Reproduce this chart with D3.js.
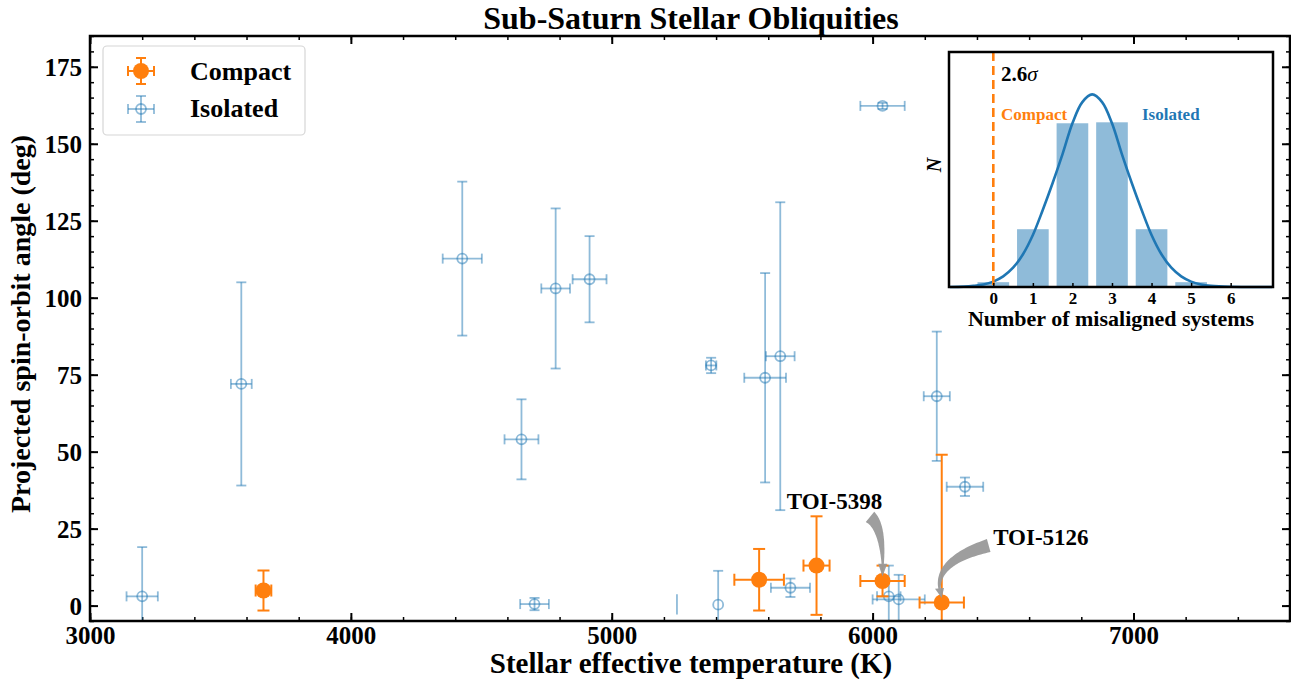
<!DOCTYPE html>
<html>
<head>
<meta charset="utf-8">
<script src="https://cdn.jsdelivr.net/npm/d3@7"></script>
<style>
  body { margin: 0; background: #fff; }
  text { font-family: "Liberation Serif", "Times New Roman", serif; font-weight: bold; }
</style>
</head>
<body>
<div id="chart"></div>
<script>
// Isolated systems: Teff, err, lambda, err
var isoTeff   = [3200, 3580, 4427, 4654, 4704, 4785, 4915, 5381, 5408, 5588, 5646, 5685, 6038, 6062, 6100, 6246, 6354];
var isoTeffE  = [60, 40, 75, 65, 55, 55, 65, 20, 0, 80, 55, 75, 85, 45, 100, 50, 70];
var isoLam    = [3, 72, 112.7, 54, 0.5, 103, 106, 78, 0.3, 74, 81, 5.8, 162.3, 3, 2, 68, 38.6];
var isoLamE   = [16, 33, 25, 13, 2, 26, 14, 2.5, 11, 34, 50, 3, 1, 10, 8, 21, 3];
// isolated entry that shows only a bare error bar
var isoBareTeff = [5250];
var isoBareLam  = [0.4];
var isoBareLamE = [3.3];

// Compact systems
var cmpTeff   = [3665, 5565, 5785, 6038, 6265];
var cmpTeffE  = [30, 95, 50, 85, 85];
var cmpLam    = [4.9, 8.4, 13, 8, 1];
var cmpLamE   = [6.5, 10, 16, 5, 48];

// annotations
var annLabels = ['TOI-5398', 'TOI-5126'];
var annText   = [[5854, 31.5], [6462, 19.8]];
var annFrom   = [[5990, 28.8], [6445, 19.5]];
var annCtrl   = [[6045, 25], [6215, 14]];
var annTo     = [[6038, 9.5], [6265, 2.5]];

// inset histogram
var histBins  = [0, 1, 2, 3, 4, 5];
var histVals  = [0.025, 0.30, 0.85, 0.855, 0.30, 0.025];
var fitX      = [-1.1, -0.75, -0.5, -0.25, 0, 0.25, 0.5, 0.75, 1, 1.25, 1.5, 1.75, 2, 2.25, 2.5, 2.75, 3, 3.25, 3.5, 3.75, 4, 4.25, 4.5, 4.75, 5, 5.25, 5.5, 6, 6.5, 7.05];
var fitY      = [0.0, 0.002, 0.006, 0.013, 0.028, 0.055, 0.10, 0.17, 0.27, 0.40, 0.54, 0.69, 0.85, 0.96, 1.0, 0.96, 0.85, 0.69, 0.54, 0.40, 0.27, 0.17, 0.10, 0.055, 0.028, 0.013, 0.006, 0.001, 0.0, 0.0];
var histTicks = [0, 1, 2, 3, 4, 5, 6];

var orange = '#ff7f0e';
var blue = '#1f77b4';

var width = 1291, height = 680;
var margin = { top: 36, right: 1, bottom: 59, left: 90 };

var svg = d3.select('#chart').append('svg')
    .attr('width', width).attr('height', height)
    .attr('viewBox', [0, 0, width, height]);

var x = d3.scaleLinear().domain([3000, 7600]).range([margin.left, width - margin.right]);
var y = d3.scaleLinear().domain([-5, 185]).range([height - margin.bottom, margin.top]);

svg.append('clipPath').attr('id', 'clip')
    .append('rect')
    .attr('x', margin.left).attr('y', margin.top)
    .attr('width', width - margin.right - margin.left)
    .attr('height', height - margin.bottom - margin.top);

// title + axis labels
svg.append('text').attr('x', 691).attr('y', 29).attr('text-anchor', 'middle')
    .attr('font-size', 32).text('Sub-Saturn Stellar Obliquities');
svg.append('text').attr('x', 691).attr('y', 673).attr('text-anchor', 'middle')
    .attr('font-size', 29).text('Stellar effective temperature (K)');
svg.append('text').attr('transform', 'translate(30,324) rotate(-90)').attr('text-anchor', 'middle')
    .attr('font-size', 28).text('Projected spin-orbit angle (deg)');

// ticks, inward on all sides
function inTicks(g, scale, orient, major, minor, labels, pad) {
    var ax = orient === 'bottom' ? d3.axisBottom : orient === 'top' ? d3.axisTop : orient === 'left' ? d3.axisLeft : d3.axisRight;
    g.append('g').call(ax(scale).tickValues(minor).tickSize(-4).tickFormat(''))
        .call(a => a.select('.domain').remove())
        .call(a => a.selectAll('line').attr('stroke-width', 1.5));
    var m = g.append('g').call(ax(scale).tickValues(major).tickSize(-8).tickPadding(pad || 5).tickFormat(labels ? d3.format('d') : ''))
        .call(a => a.select('.domain').remove())
        .call(a => a.selectAll('line').attr('stroke-width', 2));
    m.selectAll('text').attr('font-size', 25).attr('fill', '#000')
        .style('font-family', '"Liberation Serif", serif').style('font-weight', 'bold');
    return m;
}
var xMajor = d3.range(3000, 7601, 1000), xMinor = d3.range(3000, 7601, 200);
var yMajor = d3.range(0, 176, 25), yMinor = d3.range(-5, 186, 5);
inTicks(svg.append('g').attr('transform', `translate(0,${y(-5)})`), x, 'bottom', xMajor, xMinor, true, 5);
inTicks(svg.append('g').attr('transform', `translate(0,${y(185)})`), x, 'top', xMajor, xMinor, false);
var yl = inTicks(svg.append('g').attr('transform', `translate(${x(3000)},0)`), y, 'left', yMajor, yMinor, true, 8);
yl.selectAll('text').attr('dy', '0.35em');
inTicks(svg.append('g').attr('transform', `translate(${x(7600)},0)`), y, 'right', yMajor, yMinor, false);

// error bar helper
function errbar(g, tx, txe, lam, lame, color, op, sw, cap) {
    var d = g.append('g').attr('stroke', color).attr('stroke-opacity', op).attr('stroke-width', sw).attr('fill', 'none');
    d.append('line').attr('x1', x(tx)).attr('x2', x(tx)).attr('y1', y(lam - lame)).attr('y2', y(lam + lame));
    d.append('line').attr('x1', x(tx) - cap).attr('x2', x(tx) + cap).attr('y1', y(lam - lame)).attr('y2', y(lam - lame));
    d.append('line').attr('x1', x(tx) - cap).attr('x2', x(tx) + cap).attr('y1', y(lam + lame)).attr('y2', y(lam + lame));
    if (txe > 0) {
        d.append('line').attr('x1', x(tx - txe)).attr('x2', x(tx + txe)).attr('y1', y(lam)).attr('y2', y(lam));
        d.append('line').attr('x1', x(tx - txe)).attr('x2', x(tx - txe)).attr('y1', y(lam) - cap).attr('y2', y(lam) + cap);
        d.append('line').attr('x1', x(tx + txe)).attr('x2', x(tx + txe)).attr('y1', y(lam) - cap).attr('y2', y(lam) + cap);
    }
}

var plot = svg.append('g').attr('clip-path', 'url(#clip)');

isoTeff.forEach(function (t, i) {
    errbar(plot, t, isoTeffE[i], isoLam[i], isoLamE[i], blue, 0.5, 1.8, 5);
    plot.append('circle').attr('cx', x(t)).attr('cy', y(isoLam[i])).attr('r', 5)
        .attr('fill', 'none').attr('stroke', blue).attr('stroke-opacity', 0.5).attr('stroke-width', 1.8);
});
isoBareTeff.forEach(function (t, i) {
    plot.append('line').attr('x1', x(t)).attr('x2', x(t))
        .attr('y1', y(isoBareLam[i] - isoBareLamE[i])).attr('y2', y(isoBareLam[i] + isoBareLamE[i]))
        .attr('stroke', blue).attr('stroke-opacity', 0.5).attr('stroke-width', 1.8);
});

cmpTeff.forEach(function (t, i) {
    errbar(plot, t, cmpTeffE[i], cmpLam[i], cmpLamE[i], orange, 1, 2, 6);
    plot.append('circle').attr('cx', x(t)).attr('cy', y(cmpLam[i])).attr('r', 8).attr('fill', orange);
});

// curved tapered arrows
function wedge(p0, c, p1, w0) {
    var n = 40, left = [], right = [];
    function pt(t) {
        return [(1 - t) * (1 - t) * p0[0] + 2 * (1 - t) * t * c[0] + t * t * p1[0],
                (1 - t) * (1 - t) * p0[1] + 2 * (1 - t) * t * c[1] + t * t * p1[1]];
    }
    function tan(t) {
        var dx = 2 * (1 - t) * (c[0] - p0[0]) + 2 * t * (p1[0] - c[0]);
        var dy = 2 * (1 - t) * (c[1] - p0[1]) + 2 * t * (p1[1] - c[1]);
        var l = Math.hypot(dx, dy);
        return [dx / l, dy / l];
    }
    for (var k = 0; k <= n; k++) {
        var t = k / n * 0.86;
        var p = pt(t), d = tan(t);
        var hw = w0 / 2 * (1 - t / 0.86) + 1.2;
        left.push([p[0] - d[1] * hw, p[1] + d[0] * hw]);
        right.push([p[0] + d[1] * hw, p[1] - d[0] * hw]);
    }
    var pb = pt(0.86), db = tan(0.86);
    var head = [[pb[0] - db[1] * 4.5, pb[1] + db[0] * 4.5], p1, [pb[0] + db[1] * 4.5, pb[1] - db[0] * 4.5]];
    var pts = left.concat([head[0], head[1], head[2]]).concat(right.reverse());
    return 'M' + pts.map(p => p[0].toFixed(1) + ',' + p[1].toFixed(1)).join('L') + 'Z';
}

annLabels.forEach(function (lab, i) {
    var p0 = [x(annFrom[i][0]), y(annFrom[i][1])];
    var c = [x(annCtrl[i][0]), y(annCtrl[i][1])];
    var p1 = [x(annTo[i][0]), y(annTo[i][1])];
    svg.append('path').attr('d', wedge(p0, c, p1, 11)).attr('fill', '#999').attr('fill-opacity', 0.95);
    svg.append('text').attr('x', x(annText[i][0])).attr('y', y(annText[i][1]))
        .attr('text-anchor', i === 0 ? 'middle' : 'start').attr('font-size', 23).text(lab);
});

// frame
svg.append('rect').attr('x', x(3000)).attr('y', y(185))
    .attr('width', x(7600) - x(3000)).attr('height', y(-5) - y(185))
    .attr('fill', 'none').attr('stroke', '#000').attr('stroke-width', 2.5);

// legend
var leg = svg.append('g');
leg.append('rect').attr('x', 103).attr('y', 46).attr('width', 202).attr('height', 89).attr('rx', 4)
    .attr('fill', '#fff').attr('fill-opacity', 0.8).attr('stroke', '#d6d6d6').attr('stroke-width', 1.2);
function legErr(cx, cy, color, op, sw, hx, hy, cap) {
    var g = leg.append('g').attr('stroke', color).attr('stroke-opacity', op).attr('stroke-width', sw);
    g.append('line').attr('x1', cx - hx).attr('x2', cx + hx).attr('y1', cy).attr('y2', cy);
    g.append('line').attr('x1', cx).attr('x2', cx).attr('y1', cy - hy).attr('y2', cy + hy);
    g.append('line').attr('x1', cx - hx).attr('x2', cx - hx).attr('y1', cy - cap).attr('y2', cy + cap);
    g.append('line').attr('x1', cx + hx).attr('x2', cx + hx).attr('y1', cy - cap).attr('y2', cy + cap);
    g.append('line').attr('x1', cx - cap).attr('x2', cx + cap).attr('y1', cy - hy).attr('y2', cy - hy);
    g.append('line').attr('x1', cx - cap).attr('x2', cx + cap).attr('y1', cy + hy).attr('y2', cy + hy);
}
legErr(141, 71, orange, 1, 2, 13, 13, 5);
leg.append('circle').attr('cx', 141).attr('cy', 71).attr('r', 8).attr('fill', orange);
legErr(141, 109, blue, 0.5, 1.8, 13, 13, 5);
leg.append('circle').attr('cx', 141).attr('cy', 109).attr('r', 5).attr('fill', 'none')
    .attr('stroke', blue).attr('stroke-opacity', 0.5).attr('stroke-width', 1.8);
leg.append('text').attr('x', 190).attr('y', 80).attr('font-size', 26).text('Compact');
leg.append('text').attr('x', 190).attr('y', 117).attr('font-size', 26).text('Isolated');

// inset
var ix = d3.scaleLinear().domain([-1.12, 7.07]).range([949, 1273]);
var iy = d3.scaleLinear().domain([0, 1.22]).range([287, 52]);
var inset = svg.append('g');
inset.append('rect').attr('x', 949).attr('y', 52).attr('width', 324).attr('height', 235).attr('fill', '#fff');

inset.selectAll('rect.bar').data(histBins).join('rect').attr('class', 'bar')
    .attr('x', d => ix(d - 0.4)).attr('width', ix(0.8) - ix(0))
    .attr('y', (d, i) => iy(histVals[i])).attr('height', (d, i) => iy(0) - iy(histVals[i]))
    .attr('fill', blue).attr('fill-opacity', 0.5);

var fitLine = d3.line().x((d, i) => ix(fitX[i])).y(d => iy(d)).curve(d3.curveCatmullRom);
inset.append('path').datum(fitY).attr('d', fitLine)
    .attr('fill', 'none').attr('stroke', blue).attr('stroke-width', 2.6);

inset.append('line').attr('x1', ix(0)).attr('x2', ix(0)).attr('y1', 52).attr('y2', 287)
    .attr('stroke', orange).attr('stroke-width', 2.6).attr('stroke-dasharray', '9,5');

var sig = inset.append('text').attr('x', 1001).attr('y', 81).attr('font-size', 21);
sig.append('tspan').text('2.6');
sig.append('tspan').attr('font-style', 'italic').attr('font-weight', 'normal').text('σ');
inset.append('text').attr('x', 1001).attr('y', 120).attr('font-size', 17).attr('fill', orange).text('Compact');
inset.append('text').attr('x', 1142).attr('y', 120).attr('font-size', 17).attr('fill', blue).text('Isolated');

var ixAxis = inset.append('g').attr('transform', 'translate(0,287)')
    .call(d3.axisBottom(ix).tickValues(histTicks).tickSize(-4).tickPadding(5).tickFormat(d3.format('d')))
    .call(a => a.select('.domain').remove());
ixAxis.selectAll('text').attr('font-size', 17).attr('fill', '#000')
    .style('font-family', '"Liberation Serif", serif').style('font-weight', 'bold');
ixAxis.selectAll('line').attr('stroke-width', 1.5);

inset.append('rect').attr('x', 949).attr('y', 52).attr('width', 324).attr('height', 235)
    .attr('fill', 'none').attr('stroke', '#000').attr('stroke-width', 2.5);
inset.append('text').attr('x', 1111).attr('y', 326).attr('text-anchor', 'middle')
    .attr('font-size', 22).text('Number of misaligned systems');
inset.append('text').attr('transform', 'translate(941,165) rotate(-90)').attr('text-anchor', 'middle')
    .attr('font-size', 20).attr('font-style', 'italic').attr('font-weight', 'normal').text('N');
</script>
</body>
</html>
